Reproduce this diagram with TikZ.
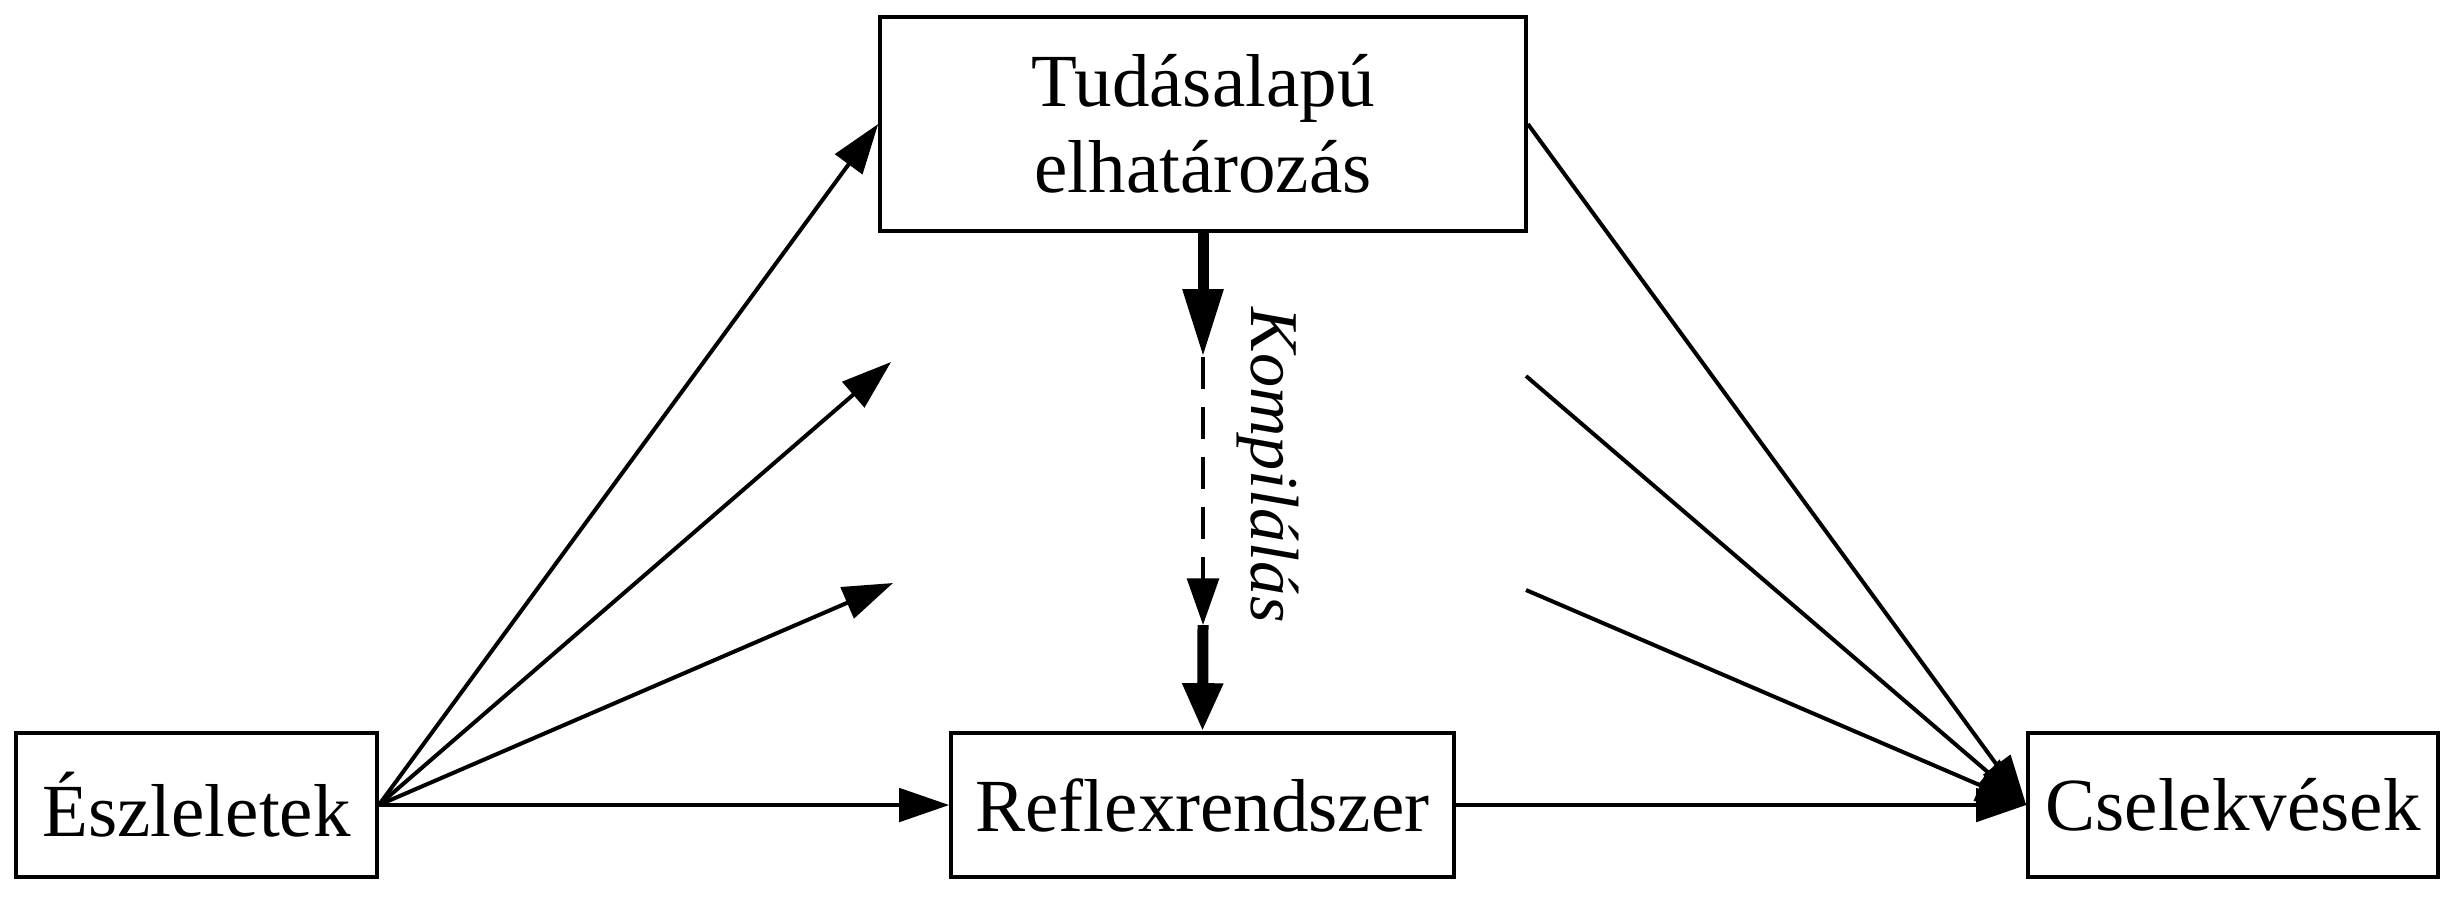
\documentclass[tikz,border=0pt]{standalone}
\usepackage{fontspec}
\setmainfont{Liberation Serif}
\usetikzlibrary{arrows.meta}
\begin{document}
\begin{tikzpicture}[x=0.3pt,y=-0.3pt,
  box/.style={draw, line width=1.1pt, inner sep=0pt, minimum height=43.2pt,
    font=\fontsize{22.5}{25.8}\selectfont, align=center},
  arr/.style={line width=1.2pt, -{Triangle[length=15pt,width=10pt]}},
  thickarr/.style={line width=3.3pt, -{Triangle[length=#1,width=11.5pt]}},
  dasharr/.style={line width=1.2pt, dash pattern=on 9.6pt off 5.4pt, -{Triangle[length=14pt,width=9.5pt]}},
  lbl/.style={font=\fontsize{20.5}{24}\selectfont\itshape, inner sep=0pt}]
\useasboundingbox (0,0) rectangle (2457,898);
\node[box, minimum width=108.3pt] (esz) at (196.5,805) {Észleletek};
\node[box, minimum width=150.9pt] (refl) at (1202.5,805) {Reflexrendszer};
\node[box, minimum width=123pt] (csel) at (2233,805) {Cselekvések};
\node[box, minimum width=193.8pt, minimum height=64.2pt] (tud) at (1203,124) {Tudásalapú\\elhatározás};
\coordinate (l1) at (891,362);
\coordinate (l2) at (893,583);
\coordinate (r1) at (1526,376);
\coordinate (r2) at (1526,590);
\coordinate (k1) at (1203,357);
\coordinate (k2) at (1203,625);
\draw[arr] (esz.east) -- (tud.west);
\draw[arr] (esz.east) -- (l1);
\draw[arr] (esz.east) -- (l2);
\draw[arr] (esz.east) -- (refl.west);
\draw[arr] (tud.east) -- (csel.west);
\draw[arr] (r1) -- (csel.west);
\draw[arr] (r2) -- (csel.west);
\draw[arr] (refl.east) -- (csel.west);
\draw[thickarr=20.4pt] (tud.south) -- (k1);
\draw[dasharr] (k1) -- (k2);
\draw[thickarr=14.4pt] (k2) -- (refl.north);
\node[lbl, rotate=-90] (komp) at (1268,465) {Kompilálás};
\end{tikzpicture}
\end{document}
